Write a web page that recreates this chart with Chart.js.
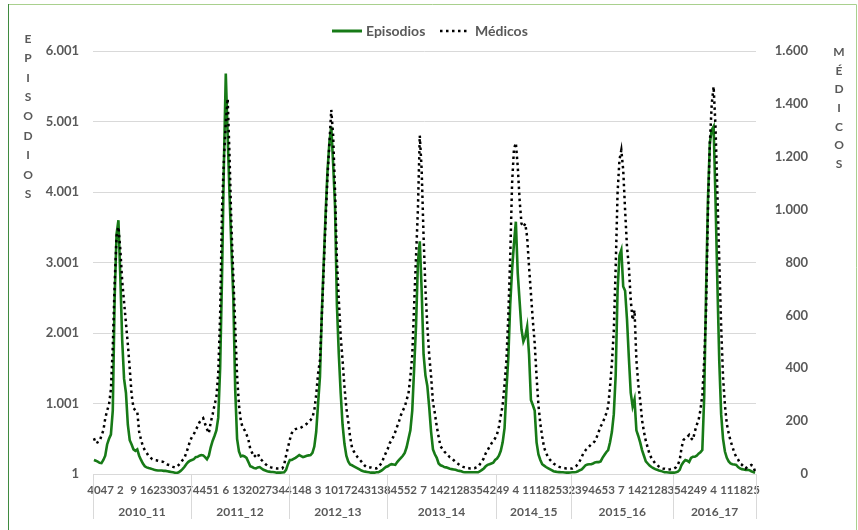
<!DOCTYPE html>
<html>
<head>
<meta charset="utf-8">
<script src="https://cdn.jsdelivr.net/npm/chart.js@4/dist/chart.umd.min.js"></script>
<style>
  html, body { margin: 0; padding: 0; background: #fff; }
  #caja { position: relative; width: 858px; height: 530px; }
</style>
</head>
<body>
<div id="caja"><canvas id="grafico" width="858" height="530"></canvas></div>
<script>
// Temporadas y semanas (eje X en dos niveles)
const temporadas = ["2010_11", "2011_12", "2012_13", "2013_14", "2014_15", "2015_16", "2016_17"];
const semanasPorTemporada = [52, 52, 52, 58, 40, 54, 44];

const semanas = [
  // 2010_11
  40,41,42,43,44,45,46,47,48,49,50,51,52,1,2,3,4,5,6,7,8,9,10,11,12,13,14,15,16,17,18,19,20,21,22,23,24,25,26,27,28,29,30,31,32,33,34,35,36,37,38,39,
  // 2011_12
  40,41,42,43,44,45,46,47,48,49,50,51,52,1,2,3,4,5,6,7,8,9,10,11,12,13,14,15,16,17,18,19,20,21,22,23,24,25,26,27,28,29,30,31,32,33,34,35,36,37,38,39,
  // 2012_13
  40,41,42,43,44,45,46,47,48,49,50,51,52,1,2,3,4,5,6,7,8,9,10,11,12,13,14,15,16,17,18,19,20,21,22,23,24,25,26,27,28,29,30,31,32,33,34,35,36,37,38,39,
  // 2013_14
  40,41,42,43,44,45,46,47,48,49,50,51,52,1,2,3,4,5,6,7,8,9,10,11,12,13,14,15,16,17,18,19,20,21,22,23,24,25,26,27,28,29,30,31,32,33,34,35,36,37,38,39,40,41,42,43,44,45,
  // 2014_15
  46,47,48,49,50,51,52,1,2,3,4,5,6,7,8,9,10,11,12,13,14,15,16,17,18,19,20,21,22,23,24,25,26,27,28,29,30,31,32,33,
  // 2015_16
  34,35,36,37,38,39,40,41,42,43,44,45,46,47,48,49,50,51,52,53,1,2,3,4,5,6,7,8,9,10,11,12,13,14,15,16,17,18,19,20,21,22,23,24,25,26,27,28,29,30,31,32,33,34,
  // 2016_17
  35,36,37,38,39,40,41,42,43,44,45,46,47,48,49,50,51,52,1,2,3,4,5,6,7,8,9,10,11,12,13,14,15,16,17,18,19,20,21,22,23,24,25,26
];

const episodios = [
  // 2010_11
  200,190,175,160,155,200,260,420,500,560,
  900,2500,3400,3600,2800,1900,1350,1150,700,480,
  420,350,330,350,260,200,150,110,95,85,
  80,70,60,55,50,50,50,45,45,40,
  35,30,25,20,15,25,45,70,100,140,
  170,190,
  // 2011_12
  200,210,240,245,260,270,265,240,210,260,
  380,470,540,620,800,1500,2800,4400,5680,4800,
  3950,3200,2500,1200,500,320,250,260,250,230,
  170,110,100,85,80,95,100,80,60,50,
  40,35,30,30,25,20,20,20,22,25,
  60,140,
  // 2012_13
  200,200,215,230,250,270,255,240,250,260,
  265,270,300,390,600,1000,1380,2300,3000,3700,
  4300,4700,4930,4400,3800,2400,1700,1150,700,430,
  260,180,135,125,110,95,80,65,50,40,
  35,30,25,20,20,20,25,25,40,55,
  80,100,
  // 2013_14
  110,130,140,135,130,170,200,230,260,300,
  380,500,620,900,1500,2100,3000,3300,2600,1700,
  1400,1250,950,600,350,280,230,150,125,115,
  100,95,85,75,70,65,60,50,45,40,
  30,25,25,25,25,25,25,25,25,40,
  60,80,110,130,140,150,160,200,
  // 2014_15
  220,260,330,450,650,1200,1650,2400,2900,3270,
  3580,2850,2450,2050,1880,1950,2090,1700,1050,980,
  900,450,280,200,140,120,100,85,70,55,
  40,35,30,28,25,25,22,20,20,22,
  // 2015_16
  25,25,30,40,55,65,95,125,135,140,
  140,150,165,170,170,180,230,270,310,340,
  450,600,850,1400,2600,3100,3180,2660,2600,2200,
  1650,1150,960,1060,620,540,450,340,260,180,
  150,120,100,85,70,60,50,45,35,25,
  25,22,20,20,
  // 2016_17
  20,25,35,60,130,170,200,190,170,230,
  245,245,260,290,310,340,1100,2600,3900,4700,
  4880,4930,3900,2700,1600,850,500,320,230,180,
  150,140,135,130,100,80,70,65,60,60,
  55,40,30,20
];

const medicos = [
  // 2010_11
  135,116,120,124,145,165,210,240,262,320,
  480,720,900,935,850,730,650,570,490,400,
  300,250,240,236,160,130,105,90,80,68,
  62,56,53,52,50,48,47,45,40,36,
  34,30,27,25,27,34,42,52,60,80,
  100,125,
  // 2011_12
  140,150,165,180,195,205,211,190,170,154,
  195,225,260,292,380,600,1000,1190,1330,1420,
  1200,935,746,560,370,260,200,175,166,150,
  130,95,80,65,72,78,60,53,45,38,
  32,28,25,23,22,21,21,21,21,35,
  70,100,
  // 2012_13
  130,154,166,170,172,172,176,180,185,190,
  198,204,215,240,300,380,431,600,780,960,
  1125,1250,1377,1280,1070,809,660,520,431,330,
  250,200,140,100,85,75,63,55,47,38,
  30,25,25,25,23,22,21,25,35,45,
  65,80,
  // 2013_14
  95,116,128,141,160,180,200,223,240,254,
  280,305,368,450,640,820,1000,1280,1150,900,
  700,560,450,370,270,230,180,141,105,95,
  85,78,70,63,59,52,45,40,35,30,
  27,25,23,22,21,21,22,25,28,38,
  47,60,78,90,103,115,125,135,
  // 2014_15
  150,179,220,260,340,431,600,820,1100,1230,
  1252,1163,1036,947,935,947,896,784,683,582,
  495,368,260,190,141,100,80,65,55,47,
  40,35,30,27,25,23,22,21,21,21,
  // 2015_16
  21,25,30,38,50,65,80,90,97,105,
  112,116,125,141,160,180,192,210,229,254,
  330,420,540,780,1062,1188,1225,1150,998,860,
  784,658,582,620,431,340,280,204,160,125,
  100,75,60,50,40,34,28,23,21,20,
  18,17,18,20,
  // 2016_17
  21,25,35,53,100,129,135,140,148,135,
  129,160,185,204,242,300,431,620,1000,1250,
  1400,1465,1314,1062,809,557,368,260,190,154,
  125,103,80,65,55,40,35,28,21,28,
  30,34,30,10
];

const ticksEpisodios = [1, 1001, 2001, 3001, 4001, 5001, 6001];
const ticksMedicos = [0, 200, 400, 600, 800, 1000, 1200, 1400, 1600];
const tituloIzq = ["E", "P", "I", "S", "O", "D", "I", "O", "S"];
const tituloDer = ["M", "É", "D", "I", "C", "O", "S"];

const VERDE = "#177a17";
const GRIS = "#595959";
const FUENTE = "Lato, 'Liberation Sans', sans-serif";

// Formato con punto de miles
function conPuntos(v) {
  return String(v).replace(/\B(?=(\d{3})+(?!\d))/g, ".");
}

// Plugin para marco, leyenda, títulos verticales y segundo nivel del eje X
const decoracion = {
  id: "decoracion",
  afterDraw(chart) {
    const { ctx, chartArea, scales } = chart;
    const x = scales.x;
    ctx.save();

    // marco del gráfico
    ctx.lineWidth = 1;
    ctx.strokeStyle = "#a9d08e";
    ctx.beginPath();
    ctx.moveTo(8, 4.5); ctx.lineTo(856.5, 4.5); ctx.lineTo(856.5, 530);
    ctx.stroke();
    ctx.strokeStyle = "#3f8a3f";
    ctx.beginPath();
    ctx.moveTo(8.5, 4); ctx.lineTo(8.5, 530);
    ctx.stroke();

    // leyenda
    const yl = 31;
    ctx.lineWidth = 3;
    ctx.strokeStyle = VERDE;
    ctx.beginPath(); ctx.moveTo(332, yl); ctx.lineTo(362, yl); ctx.stroke();
    ctx.strokeStyle = "#000";
    ctx.lineWidth = 2.5;
    ctx.setLineDash([2.5, 3.5]);
    ctx.beginPath(); ctx.moveTo(440, yl); ctx.lineTo(470, yl); ctx.stroke();
    ctx.setLineDash([]);
    ctx.fillStyle = GRIS;
    ctx.font = "bold 14px " + FUENTE;
    ctx.textBaseline = "middle";
    ctx.textAlign = "left";
    ctx.fillText("Episodios", 366, yl);
    ctx.fillText("Médicos", 475, yl);

    // títulos verticales de los ejes
    ctx.font = "bold 12px " + FUENTE;
    ctx.textAlign = "center";
    tituloIzq.forEach((letra, i) => ctx.fillText(letra, 28, 39 + i * 19.4));
    tituloDer.forEach((letra, i) => ctx.fillText(letra, 839, 52 + i * 18.7));

    // separadores y nombres de temporada
    const ancho = x.getPixelForValue(1) - x.getPixelForValue(0);
    const borde = k => x.getPixelForValue(k) - ancho / 2;
    ctx.strokeStyle = "#d9d9d9";
    ctx.lineWidth = 1;
    ctx.font = "bold 12px " + FUENTE;
    let inicio = 0;
    const cortes = [0];
    semanasPorTemporada.forEach(n => { inicio += n; cortes.push(inicio); });
    cortes.forEach(k => {
      const px = Math.round(borde(k)) + 0.5;
      ctx.beginPath(); ctx.moveTo(px, chartArea.bottom); ctx.lineTo(px, 519); ctx.stroke();
    });
    temporadas.forEach((t, i) => {
      const centro = (borde(cortes[i]) + borde(cortes[i + 1])) / 2;
      ctx.fillText(t, centro, 512);
    });
    ctx.restore();
  }
};

const ctx = document.getElementById("grafico").getContext("2d");
new Chart(ctx, {
  type: "line",
  data: {
    labels: semanas,
    datasets: [
      {
        label: "Episodios",
        data: episodios,
        yAxisID: "y",
        borderColor: VERDE,
        borderWidth: 2.6,
        pointRadius: 0,
        tension: 0,
        order: 1
      },
      {
        label: "Médicos",
        data: medicos,
        yAxisID: "y1",
        borderColor: "#000",
        borderWidth: 2.5,
        borderDash: [2.5, 3.5],
        pointRadius: 0,
        tension: 0,
        order: 0
      }
    ]
  },
  options: {
    responsive: false,
    animation: false,
    layout: { padding: { top: 51, right: 50, left: 0, bottom: 0 } },
    plugins: { legend: { display: false }, tooltip: { enabled: false } },
    scales: {
      x: {
        offset: true,
        grid: { display: false },
        border: { display: true, color: "#d9d9d9" },
        afterFit: s => { s.height = 56; },
        ticks: {
          autoSkip: false,
          maxRotation: 0,
          minRotation: 0,
          padding: 1,
          color: GRIS,
          font: { family: FUENTE, weight: "bold", size: 11.5 },
          callback: (v, i) => (i % 7 === 0 ? String(semanas[i]) : "")
        }
      },
      y: {
        position: "left",
        min: 1,
        max: 6001,
        afterBuildTicks: s => { s.ticks = ticksEpisodios.map(v => ({ value: v })); },
        afterFit: s => { s.width = 93; },
        grid: { color: "#d9d9d9", drawTicks: false },
        border: { display: false },
        ticks: {
          padding: 14,
          color: GRIS,
          font: { family: FUENTE, weight: "bold", size: 13 },
          callback: v => conPuntos(v)
        }
      },
      y1: {
        position: "right",
        min: 0,
        max: 1600,
        afterBuildTicks: s => { s.ticks = ticksMedicos.map(v => ({ value: v })); },
        afterFit: s => { s.width = 52; },
        grid: { display: false, drawTicks: false },
        border: { display: false },
        ticks: {
          crossAlign: "far",
          padding: 0,
          color: GRIS,
          font: { family: FUENTE, weight: "bold", size: 13 },
          callback: v => conPuntos(v)
        }
      }
    }
  },
  plugins: [decoracion]
});
</script>
</body>
</html>
